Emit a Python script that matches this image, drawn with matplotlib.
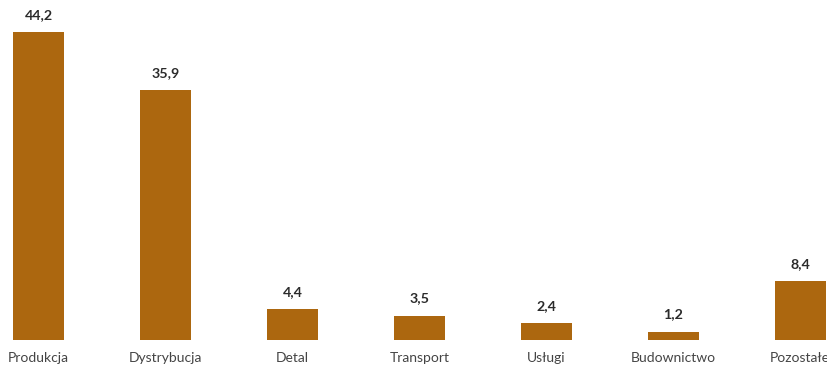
import matplotlib.pyplot as plt
import numpy as np

plt.rcParams['font.family'] = ['Lato', 'DejaVu Sans']

sectors = ["Produkcja", "Dystrybucja", "Detal", "Transport",
           "Usługi", "Budownictwo", "Pozostałe"]
shares = [44.2, 35.9, 4.4, 3.5, 2.4, 1.2, 8.4]

bar_color = "#ac670f"

fig = plt.figure(figsize=(8.28, 3.69), dpi=100)
ax = fig.add_axes([0, 29 / 369, 1, 340 / 369])

x = np.arange(len(sectors))
bars = ax.bar(x, shares, width=0.402, color=bar_color)

ax.set_xlim(-0.303, 6.22)
ax.set_ylim(0, 340 / 6.968)

# value labels above each bar, with a decimal comma
for rect, v in zip(bars, shares):
    ax.annotate(f"{v:.1f}".replace(".", ","),
                (rect.get_x() + rect.get_width() / 2, v),
                xytext=(0, 8), textcoords="offset points",
                ha="center", va="bottom", fontsize=10.3,
                fontweight="bold", color="#2b2b2b")

ax.set_xticks(x, labels=sectors)
ax.tick_params(axis="x", length=0, pad=9, labelsize=10, labelcolor="#444444")
ax.set_yticks([])
for s in ax.spines.values():
    s.set_visible(False)

fig.savefig("out.png", dpi=100)
